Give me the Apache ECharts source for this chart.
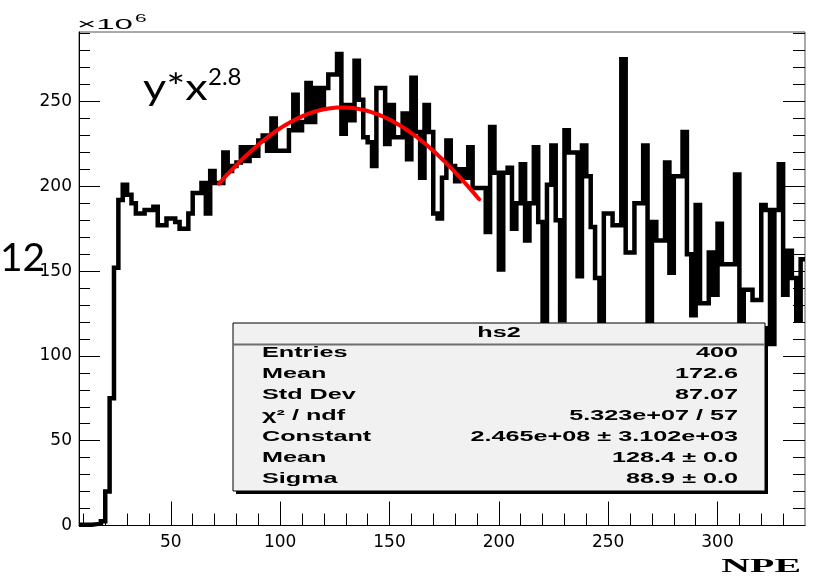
<!DOCTYPE html>
<html>
<head>
<meta charset="utf-8">
<script src="https://cdn.jsdelivr.net/npm/echarts@6/dist/echarts.min.js"></script>
<style>
  html, body { margin: 0; padding: 0; background: #ffffff; }
  #chart { width: 813px; height: 579px; }
</style>
</head>
<body>
<div id="chart"></div>
<script>
// Histogram hs2: counts (x10^6) per 2-NPE bin, first bin starts at NPE = 8
const binStart = 8;
const binWidth = 2;
const npeCounts = [
  0.5, 0.5, 0.5, 0.8, 1.2, 2.5, 20, 75, 152, 192,     // 8-26
  201, 195, 190, 184, 184, 186, 186, 188, 177, 177,   // 28-46
  181, 181, 179, 175, 175, 184, 196, 196, 202, 184,   // 48-66
  209, 202, 202, 220, 209, 212, 214, 223, 215, 223,   // 68-86
  218, 227, 230, 221, 240, 221, 221, 221, 233, 254,   // 88-106
  233, 238, 261, 238, 258, 246, 258, 266, 266, 278,   // 108-126
  231, 248, 239, 274, 251, 229, 226, 212, 258, 258,   // 128-146
  225, 248, 229, 229, 243, 216, 264, 232, 205, 248,   // 148-166
  232, 184, 181, 205, 227, 212, 203, 210, 205, 223,   // 168-186
  199, 199, 199, 173, 235, 208, 151, 208, 211, 175,   // 188-206
  190, 213, 168, 190, 223, 179, 120, 201, 224, 180,   // 208-226
  121, 233, 220, 220, 147, 224, 206, 176, 146, 110,   // 228-246
  184, 184, 177, 177, 275, 161, 161, 190, 190, 224,   // 248-266
  110, 179, 168, 168, 214, 149, 206, 206, 232, 160,   // 268-286
  124, 189, 131, 131, 161, 136, 178, 154, 154, 154,   // 288-306
  207, 110, 139, 139, 133, 133, 189, 186, 107, 186,   // 308-326
  213, 136, 162, 146, 121, 157                        // 328-338
];

// Gaussian fit: Constant (x10^6), Mean, Sigma, and the fitted NPE range
const fitConstant = 246.5;
const fitMean = 128.4;
const fitSigma = 88.9;
const fitRange = [72, 191];

// Axis ticks
const xMajorTicks = [50, 100, 150, 200, 250, 300];
const xMinorTicks = [10, 20, 30, 40, 60, 70, 80, 90, 110, 120, 130, 140, 160, 170, 180, 190,
                     210, 220, 230, 240, 260, 270, 280, 290, 310, 320, 330];
const yMajorTicks = [0, 50, 100, 150, 200, 250];
const yMinorTicks = [10, 20, 30, 40, 60, 70, 80, 90, 110, 120, 130, 140, 160, 170, 180, 190,
                     210, 220, 230, 240, 260, 270, 280, 290];

// Statistics box contents
const statsTitle = 'hs2';
const statsNames = ['Entries', 'Mean', 'Std Dev', 'χ² / ndf', 'Constant', 'Mean', 'Sigma'];
const statsValues = ['400', '172.6', '87.07', '5.323e+07 / 57',
                     '2.465e+08 ± 3.102e+03', '128.4 ± 0.0', '88.9 ± 0.0'];

// Step outline: one point per bin edge, last edge closes the final bin
const histPoints = npeCounts.map((v, i) => [binStart + i * binWidth, v]);
histPoints.push([binStart + npeCounts.length * binWidth, npeCounts[npeCounts.length - 1]]);

// Fitted Gaussian evaluated over its fit range
const fitPoints = [];
for (let x = fitRange[0]; x <= fitRange[1] + 1e-9; x += 0.5) {
  const z = (x - fitMean) / fitSigma;
  fitPoints.push([x, fitConstant * Math.exp(-0.5 * z * z)]);
}

const X_MIN = 8, X_MAX = 340, Y_MIN = 0, Y_MAX = 291;
const tickFont = 'DejaVu Sans';

function xAxisDef(ticks, len, labels) {
  return {
    type: 'value', min: X_MIN, max: X_MAX, position: 'bottom',
    axisLine: { show: labels, onZero: false, lineStyle: { color: '#000', width: 1 } },
    axisTick: { show: true, inside: true, length: len, customValues: ticks,
                lineStyle: { color: '#000', width: 1 } },
    axisLabel: labels
      ? { show: true, customValues: ticks, fontFamily: tickFont, fontSize: 17, color: '#000', margin: 9 }
      : { show: false },
    splitLine: { show: false }
  };
}
function yAxisDef(pos, ticks, len, labels, line) {
  return {
    type: 'value', min: Y_MIN, max: Y_MAX, position: pos,
    axisLine: { show: line, onZero: false, lineStyle: { color: '#000', width: 1 } },
    axisTick: { show: true, inside: true, length: len, customValues: ticks,
                lineStyle: { color: '#000', width: 1 } },
    axisLabel: labels
      ? { show: true, customValues: ticks, fontFamily: tickFont, fontSize: 17, color: '#000', margin: 7 }
      : { show: false },
    splitLine: { show: false }
  };
}

// Statistics box graphics
const boxX = 233, boxY = 323, boxW = 532, boxH = 168, rowH = 21;
const statFont = { fontFamily: 'Liberation Sans', fontWeight: 'bold', fontSize: 14, fill: '#000' };
const STRETCH = 1.8;
const statsGraphics = [
  { type: 'rect', z: 50, shape: { x: boxX + 3, y: boxY + 3, width: boxW, height: boxH },
    style: { fill: '#000' } },
  { type: 'rect', z: 51, shape: { x: boxX, y: boxY, width: boxW, height: boxH },
    style: { fill: '#f1f1f1', stroke: '#000', lineWidth: 1 } },
  { type: 'line', z: 52, shape: { x1: boxX, y1: boxY + 21.5, x2: boxX + boxW, y2: boxY + 21.5 },
    style: { stroke: '#6e6e6e', lineWidth: 2 } },
  { type: 'text', z: 53, x: boxX + boxW / 2, y: boxY + 10.5, scaleX: STRETCH,
    style: Object.assign({ text: statsTitle, x: 0, y: 0, align: 'center', verticalAlign: 'middle' }, statFont) }
];
statsNames.forEach((name, i) => {
  const cy = boxY + 30.5 + i * rowH;
  statsGraphics.push({ type: 'text', z: 53, x: 262, y: cy, scaleX: STRETCH,
    style: Object.assign({ text: name, x: 0, y: 0, align: 'left', verticalAlign: 'middle' }, statFont) });
  statsGraphics.push({ type: 'text', z: 53, x: 738, y: cy, scaleX: STRETCH,
    style: Object.assign({ text: statsValues[i], x: 0, y: 0, align: 'right', verticalAlign: 'middle' }, statFont) });
});

const chart = echarts.init(document.getElementById('chart'), null, { renderer: 'canvas' });
chart.setOption({
  animation: false,
  backgroundColor: '#ffffff',
  grid: {
    left: 79, top: 32, width: 726, height: 493.5,
    show: true, borderColor: '#555', borderWidth: 1, backgroundColor: 'transparent',
    containLabel: false, outerBoundsMode: 'none'
  },
  xAxis: [
    xAxisDef(xMajorTicks, 24, true),
    xAxisDef(xMinorTicks, 12, false)
  ],
  yAxis: [
    yAxisDef('left', yMajorTicks, 21, true, true),
    yAxisDef('left', yMinorTicks, 11, false, false),
    yAxisDef('right', yMajorTicks, 22, false, false),
    yAxisDef('right', yMinorTicks, 12, false, false)
  ],
  series: [
    {
      name: 'hs2', type: 'line', step: 'end', data: histPoints,
      xAxisIndex: 0, yAxisIndex: 0, symbol: 'none', clip: true, z: 2,
      lineStyle: { color: '#000', width: 4.5, cap: 'butt', join: 'miter' }
    },
    {
      name: 'gaus', type: 'line', data: fitPoints,
      xAxisIndex: 0, yAxisIndex: 0, symbol: 'none', clip: true, z: 3,
      lineStyle: { color: '#ff0000', width: 4, cap: 'round' }
    }
  ],
  graphic: statsGraphics.concat([
    { type: 'text', z: 60, x: 77, y: 24.5, scaleX: 2.2,
      style: { text: '×10', x: 0, y: 0, align: 'left', verticalAlign: 'middle',
               fontFamily: 'Liberation Sans', fontSize: 15, fill: '#000' } },
    { type: 'text', z: 60, x: 135, y: 19, scaleX: 1.9,
      style: { text: '6', x: 0, y: 0, align: 'left', verticalAlign: 'middle',
               fontFamily: 'Liberation Sans', fontSize: 11, fill: '#000' } },
    { type: 'text', z: 60, x: 801, y: 567, scaleX: 2.1,
      style: { text: 'NPE', x: 0, y: 0, align: 'right', verticalAlign: 'middle',
               fontFamily: 'Liberation Serif', fontWeight: 'bold', fontSize: 19, fill: '#000' } },
    { type: 'text', z: 70, x: 143, y: 88, scaleX: 1.25,
      style: { text: 'y*x', x: 0, y: 0, align: 'left', verticalAlign: 'middle',
               fontFamily: 'Lato', fontSize: 36, fill: '#000' } },
    { type: 'text', z: 70, x: 208, y: 77,
      style: { text: '2.8', x: 0, y: 0, align: 'left', verticalAlign: 'middle',
               fontFamily: 'Lato', fontSize: 24, fill: '#000' } },
    { type: 'text', z: 70, x: 0, y: 258,
      style: { text: '12', x: 0, y: 0, align: 'left', verticalAlign: 'middle',
               fontFamily: 'Lato', fontSize: 39, fill: '#000' } }
  ])
});
</script>
</body>
</html>
